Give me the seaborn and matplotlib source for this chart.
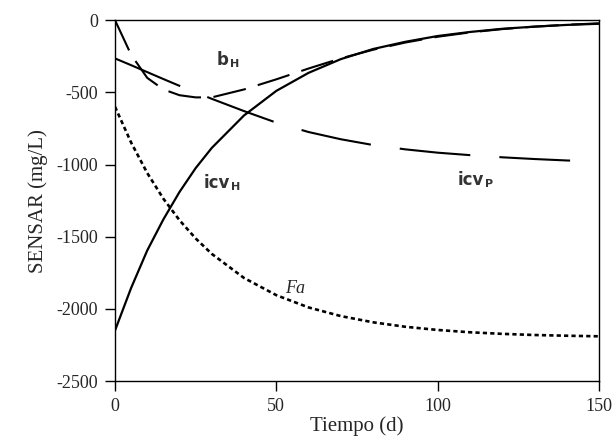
import pandas as pd
import matplotlib
matplotlib.use("Agg")
import matplotlib.pyplot as plt
import seaborn as sns

# tiempo (d)
dias = [0, 5, 10, 15, 20, 25, 30, 40, 50, 60, 70, 80, 90, 100, 110, 120, 130, 140, 150]
# curvas (mg/L)
icv_h = [-2150, -1855, -1595, -1380, -1190, -1025, -885, -660, -490, -365, -270,
         -200, -150, -110, -82, -60, -45, -33, -25]
b_h = [0, -240, -400, -480, -520, -535, -535, -480, -410, -335, -265,
       -205, -155, -115, -85, -62, -45, -32, -22]
icv_p = [-265, -312, -360, -408, -455, -500, -545, -630, -710, -775, -825,
         -865, -895, -918, -935, -950, -962, -972, -980]
fa = [-600, -848, -1059, -1237, -1386, -1512, -1619, -1786, -1905, -1990, -2050,
      -2093, -2124, -2146, -2162, -2173, -2181, -2186, -2190]

df = pd.DataFrame({"t": dias, "icvH": icv_h, "bH": b_h, "icvP": icv_p, "Fa": fa})

sns.set_style("ticks")
plt.rcParams["font.family"] = ["Liberation Serif", "DejaVu Serif"]
plt.rcParams["axes.unicode_minus"] = False

fig = plt.figure(figsize=(6.13, 4.38), dpi=100)
ax = fig.add_axes([0.1876, 0.130, 0.7894, 0.824])

sns.lineplot(data=df, x="t", y="icvH", ax=ax, color="black", linewidth=1.6)
sns.lineplot(data=df, x="t", y="bH", ax=ax, color="black", linewidth=1.5,
             linestyle=(0, (16, 6)))
sns.lineplot(data=df, x="t", y="icvP", ax=ax, color="black", linewidth=1.5,
             linestyle=(0, (34, 14)))
sns.lineplot(data=df, x="t", y="Fa", ax=ax, color="black", linewidth=1.9,
             linestyle=(0, (1.6, 1.2)))

ax.set_xlim(0, 150)
ax.set_ylim(-2500, 0)
ax.set_xticks([0, 50, 100, 150])
ax.set_yticks([-2500, -2000, -1500, -1000, -500, 0])
ax.tick_params(labelsize=13, length=7, width=1, pad=5, color="black", direction="out")
for s in ax.spines.values():
    s.set_linewidth(1)
    s.set_color("black")

ax.set_xlabel("Tiempo (d)", fontsize=15, labelpad=1)
ax.set_ylabel("SENSAR (mg/L)", fontsize=15, labelpad=6)

lab = dict(family="DejaVu Sans", color="#333333", fontweight="bold")


def etiqueta(x, y, texto, sub):
    t = ax.text(x, y, texto, fontsize=12, va="baseline", ha="left", **lab)
    ax.annotate(sub, xy=(1, 0), xycoords=t, xytext=(0.5, 0), textcoords="offset points",
                fontsize=8, va="bottom", ha="left", **lab)


etiqueta(31.6, -312, "b", "H")
etiqueta(27.6, -1163, "icv", "H")
etiqueta(106.3, -1143, "icv", "P")
ax.text(52.7, -1890, "Fa", fontsize=13, style="italic", va="baseline", ha="left")

fig.savefig("out.png", dpi=100)
